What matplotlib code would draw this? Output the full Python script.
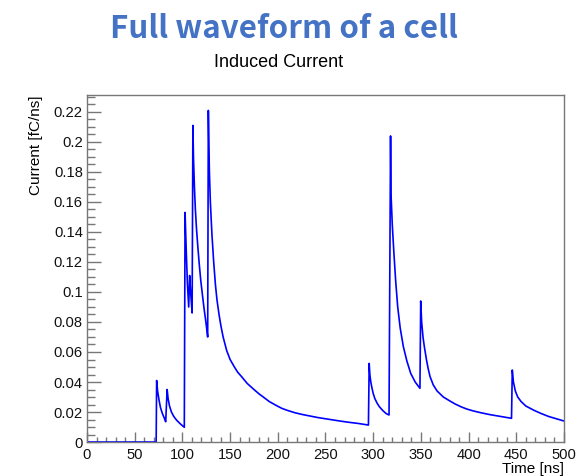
import matplotlib
matplotlib.use("Agg")
import matplotlib.pyplot as plt
from matplotlib.ticker import MultipleLocator

# induced current of one cell, sampled along the waveform
time_ns = [0, 72.5, 73.0, 74.0, 75.5, 77.0, 79.0, 81.0, 82.5,
           84.0, 85.0, 86.5, 88.5, 91.0, 94.0, 98.0, 102.0,
           102.8, 104.0, 105.3, 106.6, 107.6, 108.6, 110.2,
           111.0, 111.6, 112.6, 113.6, 114.8, 116.2, 117.6, 119.2, 121.0,
           122.7, 124.4, 125.6, 126.5,
           127.2, 127.7, 128.3, 129.3, 131.0, 132.8, 134.6, 136.2, 138.4,
           140.5, 142.7, 146.4, 150.0, 154.5, 158.0, 162.0, 168.0, 175.0,
           180.5, 184.8, 191.0, 198.0, 204.0, 209.0, 218.0, 226.0, 234.0,
           242.0, 250.0, 258.0, 266.0, 275.0, 284.0, 290.0, 295.0,
           295.8, 296.5, 297.5, 298.7, 300.0, 301.7, 304.0, 306.5, 310.0,
           313.5, 316.6,
           318.2, 318.7, 320.0, 321.7, 323.6, 325.7, 328.3, 331.6, 335.3,
           339.3, 344.0, 349.0,
           349.8, 350.8, 352.2, 353.6, 355.8, 357.6, 359.6, 363.0, 367.0,
           373.5, 380.0, 386.0, 392.0, 398.0, 405.0, 413.0, 422.0, 433.0,
           445.0,
           445.8, 447.0, 449.0, 451.5, 455.0, 460.0, 468.0, 476.0, 484.0,
           492.0, 500.0]
current = [0, 0, 0.041, 0.034, 0.028, 0.023, 0.019, 0.016, 0.0135,
           0.035, 0.029, 0.024, 0.020, 0.017, 0.0145, 0.012, 0.0098,
           0.153, 0.128, 0.105, 0.090, 0.111, 0.100, 0.086,
           0.211, 0.190, 0.170, 0.155, 0.142, 0.130, 0.119, 0.108, 0.098,
           0.089, 0.081, 0.075, 0.070,
           0.221, 0.200, 0.180, 0.160, 0.138, 0.120, 0.105, 0.095, 0.085,
           0.077, 0.070, 0.061, 0.055, 0.050, 0.0465, 0.0436, 0.039, 0.035,
           0.032, 0.030, 0.027, 0.0245, 0.0225, 0.0213, 0.0195, 0.0183,
           0.0173, 0.0163, 0.0155, 0.0147, 0.0139, 0.0131, 0.0124, 0.0118,
           0.0113,
           0.0524, 0.045, 0.040, 0.036, 0.0324, 0.029, 0.026, 0.0235, 0.021,
           0.019, 0.018,
           0.204, 0.165, 0.145, 0.126, 0.107, 0.090, 0.076, 0.0636, 0.054,
           0.0458, 0.040, 0.0358,
           0.094, 0.080, 0.070, 0.0636, 0.055, 0.049, 0.0436, 0.038, 0.034,
           0.030, 0.0275, 0.0253, 0.0235, 0.022, 0.0207, 0.0195, 0.0183,
           0.0171, 0.0158,
           0.048, 0.040, 0.034, 0.030, 0.027, 0.024, 0.0213, 0.019, 0.017,
           0.0155, 0.014]

AXIS_GREY = "#777777"

fig = plt.figure(figsize=(5.8, 4.76), dpi=100)
ax = fig.add_axes([0.15, 0.0714, 0.8224, 0.729])

ax.plot(time_ns, current, color="#0000ff", lw=1.2)

ax.set_xlim(0, 500)
ax.set_ylim(0, 0.2313)
ax.xaxis.set_major_locator(MultipleLocator(50))
ax.xaxis.set_minor_locator(MultipleLocator(10))
ax.yaxis.set_major_locator(MultipleLocator(0.02))
ax.yaxis.set_minor_locator(MultipleLocator(0.005))
ax.set_yticks([0, 0.02, 0.04, 0.06, 0.08, 0.1, 0.12, 0.14, 0.16, 0.18, 0.2, 0.22])
ax.set_yticklabels(["0", "0.02", "0.04", "0.06", "0.08", "0.1", "0.12", "0.14",
                    "0.16", "0.18", "0.2", "0.22"])

for s in ax.spines.values():
    s.set_color(AXIS_GREY)
    s.set_linewidth(1.0)

ax.tick_params(axis="y", which="major", direction="in", length=10, width=1,
               color=AXIS_GREY, pad=3)
ax.tick_params(axis="y", which="minor", direction="in", length=5.5, width=1,
               color=AXIS_GREY)
ax.tick_params(axis="x", which="major", direction="in", length=7, width=1,
               color=AXIS_GREY, pad=4)
ax.tick_params(axis="x", which="minor", direction="in", length=3.6, width=1,
               color=AXIS_GREY)
for lab in ax.get_xticklabels() + ax.get_yticklabels():
    lab.set_fontfamily("Liberation Sans")
    lab.set_fontsize(10.6)
    lab.set_color("#111111")

ax.set_xlabel("Time [ns]", fontfamily="Liberation Sans", fontsize=11,
              loc="right", labelpad=0)
ax.set_ylabel("Current [fC/ns]", fontfamily="Liberation Sans", fontsize=11,
              loc="top", labelpad=8)

fig.text(0.481, 0.868, "Induced Current", ha="center", va="center",
         fontfamily="Liberation Sans", fontsize=13)
fig.text(0.49, 0.920, "Full waveform of a cell", ha="center", va="baseline",
         fontfamily=["Noto Sans CJK SC", "DejaVu Sans"], fontweight="bold",
         fontsize=22.5, color="#4472C4")

fig.savefig("out.png", dpi=100)
